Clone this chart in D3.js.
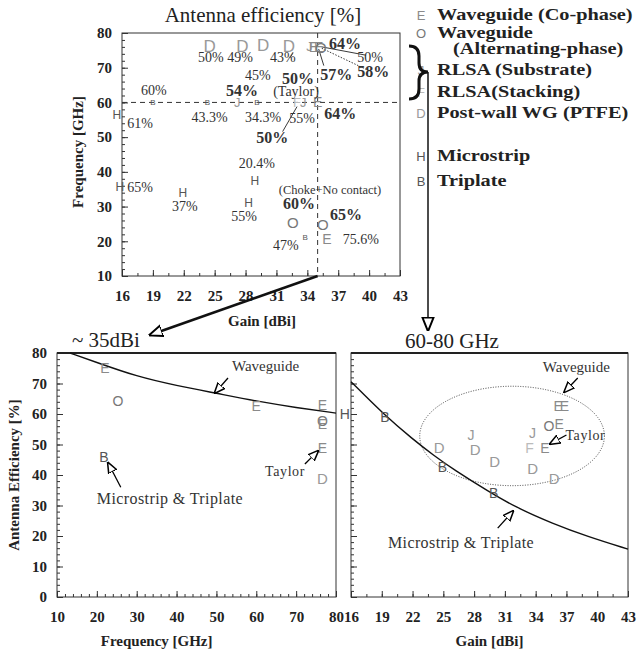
<!DOCTYPE html>
<html lang="en">
<head>
<meta charset="UTF-8"/>
<title>Antenna efficiency</title>
<script src="https://d3js.org/d3.v7.min.js"></script>
<style>
  body { margin: 0; background: #fff; }
  svg { display: block; }
  .tick text { font-family: "Liberation Serif", serif; font-weight: bold; font-size: 15px; fill: #222; }
  .tick line { stroke: #333; }
  .frame { fill: none; stroke: #333; stroke-width: 1; }
  .mk { font-family: "Liberation Sans", sans-serif; text-anchor: middle; dominant-baseline: central; }
  .note { font-family: "Liberation Serif", serif; fill: #333; }
  .lab { font-family: "Liberation Serif", serif; font-weight: bold; font-size: 15px; fill: #222; }
  .ttl { font-family: "Liberation Serif", serif; font-size: 21px; fill: #222; }
  .leg { font-family: "Liberation Serif", serif; font-weight: bold; font-size: 16px; fill: #222; }
</style>
</head>
<body>
<div id="chart"></div>
<script>
// marker letters -> antenna type
var kinds = ["E", "O", "J", "F", "D", "H", "B"];
var kindNames = ["Waveguide (Co-phase)", "Waveguide", "RLSA (Substrate)", "RLSA(Stacking)",
                 "Post-wall WG (PTFE)", "Microstrip", "Triplate"];
var kindColor = {E: "#8a8a8a", O: "#777", J: "#999", F: "#bbb", D: "#999", H: "#555", B: "#555"};
var topSize = {E: 14, O: 15, J: 13, F: 13, D: 17, H: 12, B: 8};

// top map: [gain dBi, frequency GHz, kind]
var mapPoints = [
  [24.5, 76, "D"], [27.7, 76, "D"], [29.7, 76.4, "D"], [32.2, 76, "D"],
  [34.2, 76, "J"], [34.6, 76, "E"], [35.1, 76, "E"], [35.3, 75.8, "O"],
  [19, 60, "B"], [24.3, 60, "B"], [27.2, 60, "J"], [29.1, 60, "B"],
  [33, 60, "F"], [33.6, 60, "J"], [35, 60, "E"],
  [15.5, 56.5, "H"], [15.8, 35.5, "H"], [21.9, 34, "H"], [28.9, 37.3, "H"], [28.3, 31, "H"],
  [32.6, 25.3, "O"], [35.5, 24.7, "O"], [33.8, 21, "B"], [35.9, 20.6, "E"]
];
// efficiency notes on the map: [gain, freq, text, bold]
var mapNotes = [
  [24.64, 73.1, "50%", 0], [27.46, 73.1, "49%", 0], [31.63, 73.1, "43%", 0],
  [37.65, 77.1, "64%", 1], [40.1, 73.1, "50%", 0], [40.4, 68.8, "58%", 1],
  [36.8, 68.2, "57%", 1], [29.2, 67.9, "45%", 0], [33.1, 67.0, "50%", 1],
  [32.9, 63.3, "(Taylor)", 0], [27.65, 63.6, "54%", 1], [19.1, 63.6, "60%", 0],
  [17.75, 54.1, "61%", 0], [24.5, 55.8, "43.3%", 0], [29.7, 55.8, "34.3%", 0],
  [33.5, 55.5, "55%", 0], [37.2, 56.7, "64%", 1], [30.6, 50, "50%", 1],
  [29.1, 42.5, "20.4%", 0], [17.75, 35.6, "65%", 0], [22.1, 30.1, "37%", 0],
  [27.85, 27.3, "55%", 0], [36.2, 34.8, "(Choke+No contact)", 0],
  [33.2, 31, "60%", 1], [37.75, 27.8, "65%", 1], [31.9, 18.9, "47%", 0], [39.2, 20.6, "75.6%", 0]
];
// leader lines on the map: [gain1, freq1, gain2, freq2, dotted]
var mapLeaders = [
  [35.4, 76, 39.7, 73.6, 0], [35.4, 75.6, 39.8, 69.4, 1], [35.1, 75.4, 35.6, 70.6, 0],
  [31.6, 51.6, 33.0, 58.8, 0], [32.3, 72.8, 32.6, 74.2, 0]
];

// lower left: efficiency vs frequency (~35 dBi) [freq, eff, kind]
var freqPoints = [
  [22, 75, "E"], [25.3, 64.3, "O"], [21.8, 46, "B"], [60, 62.6, "E"],
  [76.6, 63, "E"], [76.6, 57.6, "O"], [76.6, 56.6, "E"], [76.6, 49, "E"], [76.6, 38.7, "D"]
];
var waveguideCurve = [[13.3, 80], [20, 76.9], [30, 72.3], [40, 69.3], [50, 66.8], [60, 64.2], [70, 62.1], [80, 60.3]];

// lower right: efficiency vs gain (60-80 GHz) [gain, eff, kind]
var gainPoints = [
  [15.4, 60, "H"], [19.3, 59, "B"], [24.6, 49, "D"], [24.9, 42.6, "B"], [27.7, 53, "J"],
  [28.1, 48.2, "D"], [30, 44.3, "D"], [29.9, 34, "B"], [33.7, 53.8, "J"], [33.4, 49, "F"],
  [33.7, 42, "D"], [34.9, 48.8, "E"], [35.3, 56, "O"], [36.3, 56.8, "E"],
  [36.2, 62.6, "E"], [36.8, 62.6, "E"], [35.8, 38.7, "D"]
];
var microstripCurve = [[16, 70.6], [19.3, 59.5], [22, 51.8], [24.1, 46.3], [26, 41.8], [29.4, 34.6],
                       [32, 29.5], [35.7, 24], [39, 19.9], [43, 15.7]];

var W = 637, H = 652;
var svg = d3.select("#chart").append("svg").attr("width", W).attr("height", H);
svg.append("rect").attr("width", W).attr("height", H).attr("fill", "#fff");

var defs = svg.append("defs");
function arrowHead(id, size) {
  defs.append("marker").attr("id", id).attr("viewBox", "0 0 10 10")
    .attr("refX", 9).attr("refY", 5).attr("markerUnits", "userSpaceOnUse")
    .attr("markerWidth", size).attr("markerHeight", size).attr("orient", "auto")
    .append("path").attr("d", "M0,1 L10,5 L0,9 Z")
    .attr("fill", "#fff").attr("stroke", "#000").attr("stroke-width", 1.4);
}
arrowHead("open", 11);
arrowHead("openBig", 14);

function axes(g, x, y, xMajor, xMinor, yMajor, yMinor, yLabels) {
  var bottom = y.range()[0], x0 = x.range()[0];
  g.append("g").attr("transform", "translate(0," + bottom + ")")
    .call(d3.axisBottom(x).tickValues(xMinor).tickSize(-3).tickFormat(""))
    .call(function(s) { s.select(".domain").remove(); });
  g.append("g").attr("transform", "translate(0," + bottom + ")")
    .call(d3.axisBottom(x).tickValues(xMajor).tickSize(-6).tickPadding(14).tickFormat(d3.format("d")))
    .call(function(s) { s.select(".domain").remove(); });
  g.append("g").attr("transform", "translate(" + x0 + ",0)")
    .call(d3.axisLeft(y).tickValues(yMinor).tickSize(-3).tickFormat(""))
    .call(function(s) { s.select(".domain").remove(); });
  g.append("g").attr("transform", "translate(" + x0 + ",0)")
    .call(d3.axisLeft(y).tickValues(yMajor).tickSize(-6).tickPadding(10)
      .tickFormat(yLabels ? d3.format("d") : ""))
    .call(function(s) { s.select(".domain").remove(); });
  g.append("rect").attr("class", "frame")
    .attr("x", x.range()[0]).attr("y", y.range()[1])
    .attr("width", x.range()[1] - x.range()[0]).attr("height", bottom - y.range()[1]);
}

function markers(g, data, x, y, sizes) {
  g.selectAll(null).data(data).enter().append("text").attr("class", "mk")
    .attr("x", function(d) { return x(d[0]); })
    .attr("y", function(d) { return y(d[1]); })
    .attr("font-size", function(d) { return sizes ? sizes[d[2]] : (d[2] == "D" ? 15 : 14); })
    .attr("fill", function(d) { return kindColor[d[2]]; })
    .text(function(d) { return d[2]; });
}

function pointer(g, x1, y1, x2, y2) {
  g.append("line").attr("x1", x1).attr("y1", y1).attr("x2", x2).attr("y2", y2)
    .attr("stroke", "#000").attr("stroke-width", 1.3).attr("marker-end", "url(#open)");
}

// ---------- top map ----------
var xTop = d3.scaleLinear().domain([16, 43]).range([122, 400]);
var yTop = d3.scaleLinear().domain([10, 80]).range([276, 33]);
var mapG = svg.append("g");
axes(mapG, xTop, yTop, d3.range(16, 44, 3), d3.range(16, 43.1, 1.5),
     d3.range(10, 81, 10), d3.range(10, 81, 2), true);

mapG.append("line").attr("x1", xTop(16)).attr("x2", xTop(43)).attr("y1", yTop(60)).attr("y2", yTop(60))
  .attr("stroke", "#333").attr("stroke-dasharray", "5,4");
mapG.append("line").attr("x1", xTop(35)).attr("x2", xTop(35)).attr("y1", yTop(80)).attr("y2", yTop(10))
  .attr("stroke", "#333").attr("stroke-dasharray", "5,4");

mapG.selectAll(null).data(mapLeaders).enter().append("line")
  .attr("x1", function(d) { return xTop(d[0]); }).attr("y1", function(d) { return yTop(d[1]); })
  .attr("x2", function(d) { return xTop(d[2]); }).attr("y2", function(d) { return yTop(d[3]); })
  .attr("stroke", "#222").attr("stroke-width", 0.9)
  .attr("stroke-dasharray", function(d) { return d[4] ? "1.5,1.5" : null; });

markers(mapG, mapPoints, xTop, yTop, topSize);

mapG.selectAll(null).data(mapNotes).enter().append("text").attr("class", "note")
  .attr("x", function(d) { return xTop(d[0]); })
  .attr("y", function(d) { return yTop(d[1]); })
  .attr("dy", "0.35em").attr("text-anchor", "middle")
  .attr("font-size", function(d) { return d[2].length > 10 ? 12.5 : (d[3] ? 16 : 14); })
  .attr("font-weight", function(d) { return d[3] ? "bold" : null; })
  .text(function(d) { return d[2]; });

mapG.append("text").attr("class", "ttl").attr("x", 263).attr("y", 22).attr("text-anchor", "middle")
  .text("Antenna efficiency [%]");
mapG.append("text").attr("class", "lab").attr("x", 262).attr("y", 326).attr("text-anchor", "middle")
  .text("Gain [dBi]");
mapG.append("text").attr("class", "lab").attr("transform", "translate(83,152) rotate(-90)")
  .attr("text-anchor", "middle").text("Frequency [GHz]");

// ---------- legend ----------
var legRows = [15, 33, 70, 92, 113, 156, 181];
var leg = svg.append("g");
leg.selectAll(null).data(kinds).enter().append("text").attr("class", "mk")
  .attr("x", 421).attr("y", function(d, i) { return legRows[i]; })
  .attr("font-size", 13).attr("fill", function(d) { return kindColor[d]; })
  .text(function(d) { return d; });
// the scanned legend type is wide, so stretch it sideways
leg.selectAll(null).data(kindNames).enter().append("text").attr("class", "leg")
  .attr("transform", function(d, i) { return "translate(437," + (legRows[i] + 5) + ") scale(1.27,1)"; })
  .text(function(d) { return d; });
leg.append("text").attr("class", "leg").attr("transform", "translate(453,54) scale(1.27,1)")
  .text("(Alternating-phase)");

// brace and arrows linking the panels
svg.append("path")
  .attr("d", "M409,46 Q419,46 419,56 L419,63 Q419,72 428,72 Q419,72 419,81 L419,89 Q419,99 409,99")
  .attr("fill", "none").attr("stroke", "#111").attr("stroke-width", 3);
svg.append("line").attr("x1", 428).attr("y1", 72).attr("x2", 428).attr("y2", 330)
  .attr("stroke", "#111").attr("stroke-width", 1.5).attr("marker-end", "url(#openBig)");

// ---------- lower left ----------
var xFreq = d3.scaleLinear().domain([10, 80]).range([57, 336]);
var yEff = d3.scaleLinear().domain([0, 80]).range([597, 353]);
var freqG = svg.append("g");
axes(freqG, xFreq, yEff, d3.range(10, 81, 10), d3.range(10, 81, 2),
     d3.range(0, 81, 10), d3.range(0, 81, 2), true);
freqG.append("line").attr("x1", xFreq(10)).attr("x2", xFreq(80)).attr("y1", yEff(80)).attr("y2", yEff(80))
  .attr("stroke", "#222").attr("stroke-width", 2);

var lineF = d3.line().x(function(d) { return xFreq(d[0]); }).y(function(d) { return yEff(d[1]); })
  .curve(d3.curveBasis);
freqG.append("path").attr("d", lineF(waveguideCurve)).attr("fill", "none").attr("stroke", "#111").attr("stroke-width", 1.4);
markers(freqG, freqPoints, xFreq, yEff);

freqG.append("text").attr("class", "note").attr("font-size", 15).attr("x", xFreq(53.9)).attr("y", yEff(74.1)).text("Waveguide");
pointer(freqG, xFreq(52.9), yEff(71.8), xFreq(49.6), yEff(66.9));
freqG.append("text").attr("class", "note").attr("font-size", 16).attr("letter-spacing", 0.4)
  .attr("x", xFreq(20)).attr("y", yEff(30.5)).text("Microstrip & Triplate");
pointer(freqG, xFreq(26), yEff(36), xFreq(22.8), yEff(44));
freqG.append("text").attr("class", "note").attr("font-size", 14).attr("letter-spacing", 0.6)
  .attr("x", xFreq(62.2)).attr("y", yEff(39.7)).text("Taylor");
pointer(freqG, xFreq(72.2), yEff(43.6), xFreq(75.5), yEff(47.9));

freqG.append("text").attr("class", "ttl").attr("font-size", 22).attr("x", 72).attr("y", 347).text("~ 35dBi");
freqG.append("text").attr("class", "lab").attr("font-size", 16).attr("x", xFreq(35)).attr("y", 646)
  .attr("text-anchor", "middle").text("Frequency [GHz]");
freqG.append("text").attr("class", "lab").attr("transform", "translate(19," + yEff(40) + ") rotate(-90)")
  .attr("text-anchor", "middle").text("Antenna Efficiency [%]");

// diagonal pointer from the 35 dBi line down to the frequency panel
svg.append("line").attr("x1", xTop(35)).attr("y1", yTop(10)).attr("x2", 150).attr("y2", 335)
  .attr("stroke", "#111").attr("stroke-width", 2.6).attr("marker-end", "url(#openBig)");

// ---------- lower right ----------
var xGain = d3.scaleLinear().domain([16, 43]).range([351, 628]);
var gainG = svg.append("g");
axes(gainG, xGain, yEff, d3.range(16, 44, 3), d3.range(16, 43.1, 1.5),
     d3.range(0, 81, 10), d3.range(0, 81, 2), false);
gainG.append("line").attr("x1", xGain(16)).attr("x2", xGain(43)).attr("y1", yEff(80)).attr("y2", yEff(80))
  .attr("stroke", "#222").attr("stroke-width", 2);

gainG.append("ellipse").attr("cx", xGain(31.7)).attr("cy", yEff(52.8))
  .attr("rx", xGain(31.7 + 9) - xGain(31.7)).attr("ry", yEff(52.8 - 16.3) - yEff(52.8))
  .attr("fill", "none").attr("stroke", "#444").attr("stroke-dasharray", "1,1.5");

var lineG = d3.line().x(function(d) { return xGain(d[0]); }).y(function(d) { return yEff(d[1]); })
  .curve(d3.curveBasis);
gainG.append("path").attr("d", lineG(microstripCurve)).attr("fill", "none").attr("stroke", "#111").attr("stroke-width", 1.4);
markers(gainG, gainPoints, xGain, yEff);

gainG.append("text").attr("class", "note").attr("font-size", 15).attr("x", xGain(34.7)).attr("y", yEff(73.8)).text("Waveguide");
pointer(gainG, xGain(38.1), yEff(71.8), xGain(36.8), yEff(67.2));
gainG.append("text").attr("class", "note").attr("font-size", 14).attr("letter-spacing", 0.6)
  .attr("x", xGain(36.9)).attr("y", yEff(51.5)).text("Taylor");
pointer(gainG, xGain(37), yEff(53.1), xGain(35.4), yEff(50.2));
gainG.append("text").attr("class", "note").attr("font-size", 16).attr("letter-spacing", 0.4)
  .attr("x", xGain(19.6)).attr("y", yEff(16.1)).text("Microstrip & Triplate");
pointer(gainG, xGain(30.3), yEff(22.6), xGain(31.8), yEff(28.2));

gainG.append("text").attr("class", "ttl").attr("font-size", 22).attr("x", 452).attr("y", 348)
  .attr("text-anchor", "middle").text("60-80 GHz");
gainG.append("text").attr("class", "lab").attr("font-size", 16).attr("x", xGain(29.5)).attr("y", 646)
  .attr("text-anchor", "middle").text("Gain [dBi]");
</script>
</body>
</html>
